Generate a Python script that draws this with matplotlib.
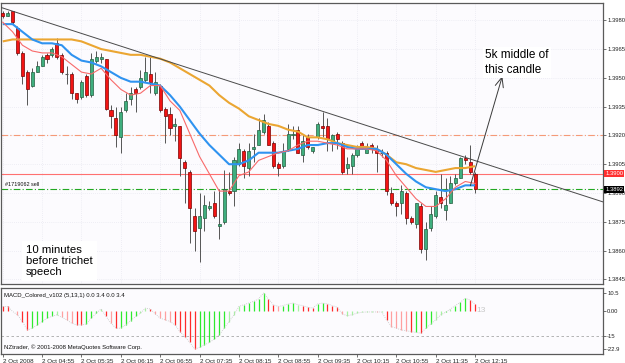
import matplotlib
matplotlib.use("Agg")
import matplotlib.pyplot as plt
import matplotlib.transforms as mtransforms
import numpy as np

plt.rcParams['font.family'] = ['Liberation Sans', 'DejaVu Sans']

# ---------------- data ----------------
opens = [1.3984, 1.3982, 1.3985, 1.3976, 1.3963, 1.3953, 1.3946, 1.3953, 1.3956, 1.3962,
         1.3962, 1.3968, 1.3962, 1.3952, 1.3952, 1.3942, 1.3940, 1.3951, 1.3941, 1.3959,
         1.3960, 1.3960, 1.3933, 1.3929, 1.3919, 1.3933, 1.3939, 1.3944, 1.3945, 1.3949,
         1.3952, 1.3942, 1.3946, 1.3934, 1.3931, 1.3925, 1.3925, 1.3906, 1.3901, 1.3878,
         1.3872, 1.3877, 1.3882, 1.3885, 1.3873, 1.3875, 1.3891, 1.3891, 1.3905, 1.3912,
         1.3903, 1.3913, 1.3915, 1.3922, 1.3925, 1.3916, 1.3905, 1.3904, 1.3913, 1.3920,
         1.3923, 1.3910, 1.3919, 1.3912, 1.3919, 1.3925, 1.3925, 1.3917, 1.3921, 1.3916,
         1.3903, 1.3904, 1.3910, 1.3916, 1.3911, 1.3915, 1.3913, 1.3911, 1.3911, 1.3890,
         1.3885, 1.3885, 1.3890, 1.3877, 1.3874, 1.3883, 1.3861, 1.3872, 1.3878, 1.3888,
         1.3881, 1.3885, 1.3895, 1.3898, 1.3908, 1.3906, 1.3900]
highs = [1.3985, 1.3985, 1.3985, 1.3977, 1.3964, 1.3954, 1.3955, 1.3959, 1.3962, 1.3963,
         1.3966, 1.3971, 1.3963, 1.3956, 1.3953, 1.3942, 1.3949, 1.3952, 1.3963, 1.3964,
         1.3963, 1.3960, 1.3936, 1.3935, 1.3935, 1.3942, 1.3945, 1.3945, 1.3954, 1.3961,
         1.3961, 1.3953, 1.3947, 1.3935, 1.3935, 1.3929, 1.3925, 1.3907, 1.3902, 1.3882,
         1.3890, 1.3889, 1.3886, 1.3891, 1.3892, 1.3902, 1.3901, 1.3909, 1.3916, 1.3913,
         1.3916, 1.3921, 1.3929, 1.3931, 1.3927, 1.3917, 1.3906, 1.3916, 1.3926, 1.3925,
         1.3925, 1.3921, 1.3921, 1.3914, 1.3927, 1.3932, 1.3929, 1.3921, 1.3922, 1.3917,
         1.3909, 1.3911, 1.3915, 1.3917, 1.3916, 1.3916, 1.3915, 1.3913, 1.3912, 1.3893,
         1.3886, 1.3894, 1.3891, 1.3878, 1.3885, 1.3885, 1.3875, 1.3883, 1.3891, 1.3900,
         1.3898, 1.3899, 1.3900, 1.3909, 1.3910, 1.3915, 1.3901]
lows = [1.3981, 1.3982, 1.3978, 1.3962, 1.3947, 1.3936, 1.3945, 1.3953, 1.3956, 1.3958,
        1.3961, 1.3960, 1.3952, 1.3947, 1.3939, 1.3937, 1.3939, 1.3940, 1.3940, 1.3958,
        1.3958, 1.3933, 1.3924, 1.3914, 1.3911, 1.3932, 1.3936, 1.3932, 1.3944, 1.3948,
        1.3942, 1.3941, 1.3932, 1.3916, 1.3920, 1.3917, 1.3899, 1.3885, 1.3864, 1.3860,
        1.3854, 1.3870, 1.3881, 1.3877, 1.3866, 1.3874, 1.3889, 1.3883, 1.3904, 1.3898,
        1.3899, 1.3906, 1.3915, 1.3921, 1.3915, 1.3903, 1.3899, 1.3903, 1.3912, 1.3918,
        1.3911, 1.3906, 1.3913, 1.3911, 1.3918, 1.3919, 1.3912, 1.3912, 1.3913, 1.3900,
        1.3900, 1.3900, 1.3909, 1.3913, 1.3911, 1.3911, 1.3901, 1.3909, 1.3889, 1.3884,
        1.3878, 1.3879, 1.3874, 1.3874, 1.3872, 1.3859, 1.3855, 1.3870, 1.3877, 1.3882,
        1.3876, 1.3885, 1.3894, 1.3898, 1.3905, 1.3900, 1.3890]
closes = [1.3982, 1.3984, 1.3979, 1.3963, 1.3951, 1.3944, 1.3953, 1.3956, 1.3961, 1.3960,
          1.3965, 1.3961, 1.3953, 1.3952, 1.3942, 1.3939, 1.3948, 1.3941, 1.3960, 1.3961,
          1.3961, 1.3934, 1.3930, 1.3920, 1.3932, 1.3938, 1.3942, 1.3942, 1.3950, 1.3953,
          1.3948, 1.3948, 1.3933, 1.3930, 1.3924, 1.3926, 1.3908, 1.3903, 1.3882, 1.3870,
          1.3878, 1.3884, 1.3883, 1.3878, 1.3874, 1.3892, 1.3890, 1.3907, 1.3913, 1.3904,
          1.3912, 1.3914, 1.3923, 1.3928, 1.3915, 1.3904, 1.3903, 1.3912, 1.3921, 1.3921,
          1.3911, 1.3917, 1.3914, 1.3914, 1.3926, 1.3924, 1.3918, 1.3920, 1.3918, 1.3901,
          1.3905, 1.3910, 1.3913, 1.3914, 1.3914, 1.3913, 1.3911, 1.3911, 1.3891, 1.3885,
          1.3883, 1.3891, 1.3877, 1.3875, 1.3885, 1.3861, 1.3871, 1.3879, 1.3889, 1.3885,
          1.3884, 1.3895, 1.3898, 1.3908, 1.3907, 1.3901, 1.3892]

# moving averages, read every second bar
ma_bars = list(range(0, 97, 2))
ma_fast = [1.3979, 1.3974, 1.3967, 1.3964, 1.3963, 1.3963, 1.3961, 1.3957, 1.3953, 1.3952,
           1.3955, 1.3949, 1.3944, 1.3941, 1.3942, 1.3946, 1.3946, 1.3938, 1.3933, 1.3921,
           1.3909, 1.3900, 1.3891, 1.3891, 1.3899, 1.3901, 1.3907, 1.3909, 1.3911, 1.3912,
           1.3915, 1.3917, 1.3917, 1.3916, 1.3915, 1.3913, 1.3913, 1.3913, 1.3912, 1.3907,
           1.3899, 1.3893, 1.3887, 1.3883, 1.3883, 1.3887, 1.3893, 1.3896, 1.3895]
ma_mid = [1.3978, 1.3978, 1.3974, 1.3970, 1.3968, 1.3968, 1.3967, 1.3962, 1.3959, 1.3958,
          1.3956, 1.3953, 1.3950, 1.3948, 1.3948, 1.3947, 1.3946, 1.3941, 1.3935, 1.3928,
          1.3921, 1.3915, 1.3910, 1.3905, 1.3905, 1.3907, 1.3911, 1.3911, 1.3911, 1.3912,
          1.3913, 1.3915, 1.3915, 1.3916, 1.3916, 1.3914, 1.3913, 1.3913, 1.3913, 1.3910,
          1.3905, 1.3900, 1.3896, 1.3893, 1.3892, 1.3891, 1.3892, 1.3894, 1.3894]
ma_slow = [1.3969, 1.3970, 1.3970, 1.3970, 1.3970, 1.3970, 1.3970, 1.3970, 1.3969, 1.3967,
           1.3965, 1.3964, 1.3963, 1.3962, 1.3962, 1.3961, 1.3960, 1.3958, 1.3955, 1.3952,
           1.3949, 1.3946, 1.3941, 1.3937, 1.3934, 1.3930, 1.3928, 1.3926, 1.3925, 1.3923,
           1.3922, 1.3919, 1.3919, 1.3918, 1.3916, 1.3915, 1.3914, 1.3914, 1.3913, 1.3910,
           1.3906, 1.3905, 1.3903, 1.3902, 1.3901, 1.3902, 1.3903, 1.3903, 1.3904]

# trend line anchors (bar, price)
trend_bars = [0, 96]
trend_prices = [1.39864, 1.39069]

level_entry = 1.3920
level_red = 1.3900
level_order = 1.3892

price_ticks = [1.3980, 1.3965, 1.3950, 1.3935, 1.3920, 1.3905, 1.3890, 1.3875, 1.3860, 1.3845]

macd = [2.5, 2.5, -0.5, -2.5, -6.5, -11.5, -10.5, -8.5, -6.5, -4.5,
        -3.5, -2.5, -4, -5.5, -7.5, -8.5, -8.5, -8, -4.5, -1.5,
        1, -3.5, -7.5, -10.5, -10.5, -8.5, -6, -3.5, -1.5, 1.5,
        1, -2, -4.5, -5.5, -6.5, -8.5, -12.5, -15.5, -19, -22.9,
        -22, -20.5, -19, -17, -14.5, -10.5, -6.5, -2.5, 2.5, 3.5,
        4.5, 5.5, 7, 10.5, 7, 3.5, 2.5, 3, 4, 4.5,
        3.5, 3, 2, 1.5, 4, 4.5, 4, 3, 2, -2,
        -3, -2.5, -1.5, -1, -0.8, -0.8, -0.8, -0.8, -5.5, -9.5,
        -10.5, -11.5, -12, -12.5, -13, -13.5, -10.5, -8, -5.5, -2.6,
        -1, 1, 3, 5, 7.3, 6.3, 3.8]
macd_col = list("RRPPRRGGGGGLPPPRRGGGLRPRGGGGLLRPPPPRRRRRGGGGGGLLLGGGGGRRPGGGLRRRGGRRRPLLLLLLPLRPPPPRGRGGLLGLGGGRR")
macd_ticks = [10.5, 0.0, -15, -22.9]
macd_tick_labels = ['10.5', '0.00', '-15', '-22.9']

time_tick_bars = list(range(0, 97, 8))
time_labels = ['2 Oct 2008', '2 Oct 04:55', '2 Oct 05:35', '2 Oct 06:15', '2 Oct 06:55',
               '2 Oct 07:35', '2 Oct 08:15', '2 Oct 08:55', '2 Oct 09:35', '2 Oct 10:15',
               '2 Oct 10:55', '2 Oct 11:35', '2 Oct 12:15']

# ---------------- figure ----------------
W, H = 625, 363
fig = plt.figure(figsize=(W / 100, H / 100), dpi=100, facecolor='white')


def box(x0, y0, x1, y1):
    return [x0 / W, 1 - y1 / H, (x1 - x0) / W, (y1 - y0) / H]


ax = fig.add_axes(box(1.5, 3, 603, 284))
mx = fig.add_axes(box(1.5, 288, 603, 354))
BG = '#FCFBFE'
for a in (ax, mx):
    a.set_facecolor(BG)
    for s in a.spines.values():
        s.set_color('#5a5a5a')
        s.set_linewidth(0.9)
    a.set_xlim(-0.25, 122.0)

ax.set_ylim(1.38426, 1.39890)

idx = np.arange(len(opens))
o = np.array(opens); h = np.array(highs); l = np.array(lows); c = np.array(closes)
up = c > o
dn = c < o
eq = c == o

LBL = 4.2

# grid
ax.set_yticks(price_ticks)
ax.set_xticks(time_tick_bars)
ax.grid(True, color='#e2e2ec', lw=0.5, ls=(0, (1, 2)), zorder=0)
ax.set_axisbelow(True)
ax.tick_params(axis='x', bottom=False, labelbottom=False)
ax.yaxis.tick_right()
ax.tick_params(axis='y', labelsize=LBL, length=2, width=0.6, color='#5a5a5a', pad=1.0,
               labelcolor='#222222')

# horizontal levels
ax.axhline(level_entry, color='#F59A78', lw=0.8, ls=(0, (6, 2, 1, 2)), zorder=2)
ax.axhline(level_red, color='#FF7070', lw=0.8, zorder=2)
ax.axhline(level_order, color='#22A822', lw=0.8, ls=(0, (6, 2, 1, 2)), zorder=2)

# candles
ax.vlines(idx, l, h, color='#555555', lw=0.7, zorder=3)
ax.bar(idx[up], (c - o)[up], bottom=o[up], width=0.62, color='#3FAE7E',
       edgecolor='#245E40', lw=0.5, zorder=4)
ax.bar(idx[dn], (o - c)[dn], bottom=c[dn], width=0.62, color='#F21414',
       edgecolor='#7A0000', lw=0.5, zorder=4)
ax.hlines(o[eq], idx[eq] - 0.31, idx[eq] + 0.31, color='#555555', lw=0.8, zorder=4)

# moving averages
ax.plot(ma_bars, ma_slow, color='#EBA632', lw=1.5, zorder=5, solid_capstyle='butt')
ax.plot(ma_bars, ma_mid, color='#2F93F0', lw=1.5, zorder=5, solid_capstyle='butt')
ax.plot(ma_bars, ma_fast, color='#F86A6A', lw=0.8, zorder=5)

# trend line
ax.axline((trend_bars[0], trend_prices[0]), (trend_bars[1], trend_prices[1]),
          color='#4a4a4a', lw=0.7, zorder=6)

# arrow
ax.annotate('', xy=(0.8327, 0.7400), xytext=(0.7795, 0.3500), xycoords='axes fraction',
            textcoords='axes fraction',
            arrowprops=dict(arrowstyle='->,head_length=0.7,head_width=0.3', color='#3a3a3a',
                            lw=0.7, shrinkA=0, shrinkB=0), zorder=7)

# annotations
ax.text(0.8040, 0.789, '5k middle of\nthis candle', transform=ax.transAxes, fontsize=8.5,
        va='center', ha='left', linespacing=1.3, color='black', zorder=8,
        bbox=dict(facecolor='white', edgecolor='none', pad=1.5))
ax.text(0.0407, 0.082, '10 minutes\nbefore trichet\nspeech', transform=ax.transAxes,
        fontsize=8.2, va='center', ha='left', linespacing=1.12, color='black', zorder=8,
        bbox=dict(facecolor='white', edgecolor='none', pad=3))
ax.text(0.006, 0.354, '#1719062 sell', transform=ax.transAxes, fontsize=4.0, va='center',
        ha='left', color='#111111', zorder=8)

# right-axis price boxes
tr = mtransforms.blended_transform_factory(ax.transAxes, ax.transData)
ax.text(1.004, level_red, '1.3900', transform=tr, fontsize=LBL, color='white', va='center',
        ha='left', zorder=9, clip_on=False,
        bbox=dict(facecolor='#FF3030', edgecolor='none', pad=0.7))
ax.text(1.004, level_order, '1.3892', transform=tr, fontsize=LBL, color='white', va='center',
        ha='left', zorder=9, clip_on=False,
        bbox=dict(facecolor='black', edgecolor='none', pad=0.7))

# ---------------- MACD panel ----------------
mx.set_ylim(-25.9, 13.5)
cmap = {'R': '#FF2A2A', 'P': '#FFA0A0', 'G': '#2EEA2E', 'L': '#A6F2A0'}
mx.vlines(idx, 0, macd, colors=[cmap[k] for k in macd_col], lw=0.9, zorder=3)
mx.plot(idx, macd, color='#c4c4c4', lw=0.6, ls=(0, (1, 1.5)), zorder=4)
mx.axhline(-15, color='#a8a8a8', lw=0.6, ls=(0, (3, 3)), zorder=2)
mx.yaxis.tick_right()
mx.set_yticks(macd_ticks)
mx.set_yticklabels(macd_tick_labels)
mx.tick_params(axis='y', labelsize=LBL, length=2, width=0.6, color='#5a5a5a', pad=1.0,
               labelcolor='#222222')
mx.set_xticks(time_tick_bars)
mx.set_xticklabels(time_labels)
mx.tick_params(axis='x', labelsize=4.5, length=2.5, width=0.6, color='#5a5a5a', pad=1.0,
               labelcolor='#222222')
for t in mx.get_xticklabels():
    t.set_ha('left')
mx.text(0.004, 0.88, 'MACD_Colored_v102 (5,13,1) 0.0 3.4 0.0 3.4', transform=mx.transAxes,
        fontsize=4.3, va='center', ha='left', color='#111111')
mx.text(0.004, 0.10, 'NZtrader, \u00a9 2001-2008 MetaQuotes Software Corp.', transform=mx.transAxes,
        fontsize=4.3, va='center', ha='left', color='#111111')
mx.text(0.789, 0.66, '13', transform=mx.transAxes, fontsize=6, va='center', ha='left',
        color='#c8c8c8')

fig.savefig('out.png', dpi=100, facecolor='white')
